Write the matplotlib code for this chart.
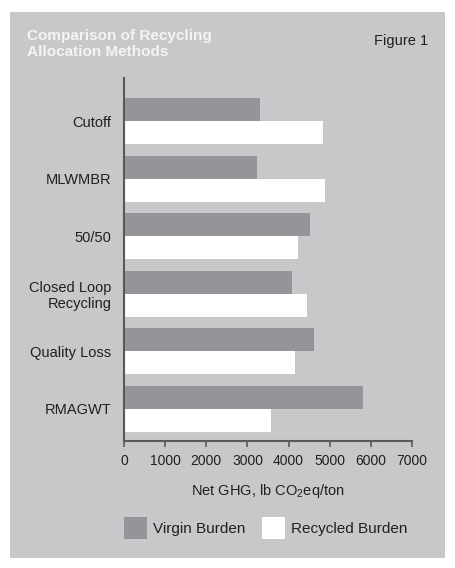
import matplotlib
matplotlib.use("Agg")
import matplotlib.pyplot as plt
from matplotlib.patches import Rectangle

plt.rcParams['font.family'] = ['Liberation Sans', 'DejaVu Sans']
plt.rcParams['mathtext.fontset'] = 'custom'
plt.rcParams['mathtext.rm'] = 'Liberation Sans'

methods = ["Cutoff", "MLWMBR", "50/50", "Closed Loop\nRecycling", "Quality Loss", "RMAGWT"]
virgin = [3310, 3235, 4525, 4090, 4620, 5815]
recycled = [4840, 4890, 4235, 4450, 4160, 3580]
xticks = [0, 1000, 2000, 3000, 4000, 5000, 6000, 7000]

panel = '#c7c8ca'
bar_grey = '#939598'
ink = '#231f20'
spine = '#58595b'

W, H = 455, 568
fig = plt.figure(figsize=(W / 100, H / 100), dpi=100)

# grey panel behind everything
fig.patches.append(Rectangle((10 / W, 1 - 558 / H), 435 / W, 546 / H,
                             transform=fig.transFigure, facecolor=panel,
                             edgecolor='none', zorder=0))

ax = fig.add_axes([124 / W, 1 - 441 / H, 288 / W, 363 / H])
ax.set_facecolor('none')
ax.set_zorder(2)

pos = list(range(len(methods)))
h = 0.4
b1 = ax.barh([p - h / 2 for p in pos], virgin, height=h, color=bar_grey, label='Virgin Burden')
b2 = ax.barh([p + h / 2 for p in pos], recycled, height=h, color='white', label='Recycled Burden')

ax.set_xlim(0, 7000)
ax.set_ylim(5.56, -0.75)
ax.set_xticks(xticks)
ax.set_yticks(pos)
ax.set_yticklabels(methods)

for s in ['top', 'right']:
    ax.spines[s].set_visible(False)
for s in ['left', 'bottom']:
    ax.spines[s].set_color(spine)
    ax.spines[s].set_linewidth(1.5)

ax.tick_params(axis='y', length=0, pad=9, labelsize=10.5, labelcolor=ink)
ax.tick_params(axis='x', length=4.5, width=1.2, color=spine, pad=5,
               labelsize=10, labelcolor=ink)

ax.set_xlabel(r'Net GHG, lb CO$_2$eq/ton', fontsize=10.5, color=ink, labelpad=10)

fig.text(27 / W, 1 - 44 / H, "Comparison of Recycling\nAllocation Methods",
         color='#f4f4f4', fontsize=11, fontweight='bold', va='center', ha='left',
         linespacing=1.2, zorder=3)
fig.text(428 / W, 1 - 41 / H, "Figure 1", color=ink, fontsize=10.5,
         ha='right', va='center', zorder=3)

leg = fig.legend(handles=[b1, b2], loc='upper left', bbox_to_anchor=(124 / W, 1 - 517 / H),
                 ncol=2, frameon=False, fontsize=11, handlelength=1.5, handleheight=1.8,
                 handletextpad=0.4, columnspacing=1.1, borderpad=0, borderaxespad=0,
                 labelcolor=ink)
leg.set_zorder(3)

fig.savefig('out.png', dpi=100, facecolor='white')
